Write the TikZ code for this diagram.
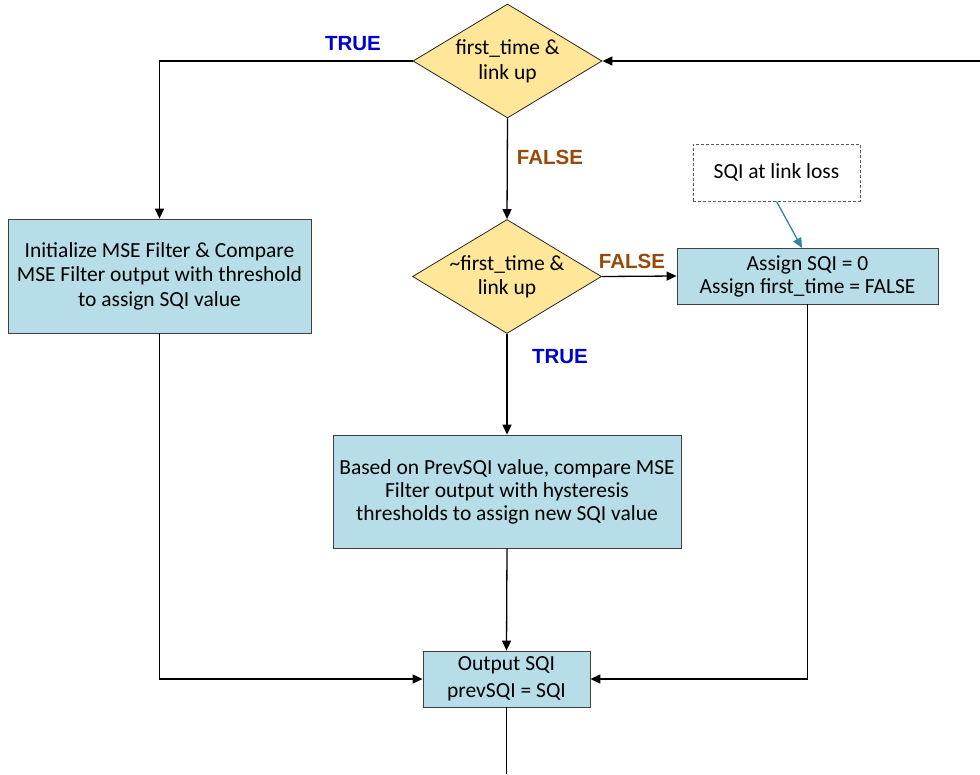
\documentclass[tikz,border=0pt]{standalone}
\usepackage{fontspec}
\setmainfont{Carlito}
\newfontfamily\lblfont{Liberation Sans}
\usetikzlibrary{shapes.geometric,arrows.meta}
\definecolor{dfill}{HTML}{FFE699}
\definecolor{bfill}{HTML}{B7DEE8}
\definecolor{tealc}{HTML}{31859C}
\definecolor{tblue}{HTML}{0000CC}
\definecolor{fbrown}{HTML}{984807}
\begin{document}
\begin{tikzpicture}[x=1pt,y=-1pt,
  every node/.style={font=\fontsize{21.5}{24.5}\selectfont, align=center, inner sep=0pt},
  dec/.style={diamond, draw=black!85, fill=dfill, line width=0.8pt, aspect=1.658, inner sep=-4pt, minimum width=189pt, minimum height=114pt},
  proc/.style={rectangle, draw=black!75, fill=bfill, line width=0.8pt},
  notebox/.style={rectangle, draw=black!65, dash pattern=on 3pt off 2pt, line width=0.8pt, fill=white},
  arr/.style={line width=1.3pt, -{Triangle[length=10pt,width=9pt]}},
  plain/.style={line width=1.3pt},
  tarr/.style={draw=tealc, line width=1.3pt, -{Triangle[length=10pt,width=9pt]}},
  tlbl/.style={font=\lblfont\bfseries\fontsize{20.5}{22}\selectfont, text=tblue},
  flbl/.style={font=\lblfont\bfseries\fontsize{20.5}{22}\selectfont, text=fbrown}
]
\useasboundingbox (0,0) rectangle (980,774);

\node[dec, font=\fontsize{21.5}{25}\selectfont] (d1) at (507.5,61) {first\_time \&\\link up};
\node[dec, font=\fontsize{21.5}{24}\selectfont] (d2) at (507,276.5) {\textasciitilde first\_time \&\\link up};
\node[proc, minimum width=303pt, minimum height=114pt] (init) at (159.5,276)
  {Initialize MSE Filter \& Compare\\MSE Filter output with threshold\\to assign SQI value};
\node[proc, minimum width=261pt, minimum height=56pt, font=\fontsize{21.5}{23}\selectfont] (assign) at (807.5,276)
  {Assign SQI = 0\\Assign first\_time = FALSE};
\node[notebox, minimum width=167pt, minimum height=57pt] (note) at (776.5,172.5) {SQI at link loss};
\node[proc, minimum width=348pt, minimum height=113pt, font=\fontsize{21.5}{23}\selectfont] (mid) at (507,491.5)
  {Based on PrevSQI value, compare MSE\\Filter output with hysteresis\\thresholds to assign new SQI value};
\node[proc, minimum width=167pt, minimum height=56pt, font=\fontsize{21.5}{27}\selectfont] (out) at (506.5,679)
  {Output SQI\\prevSQI = SQI};

\coordinate (rin) at (980,61);
\coordinate (bot) at (506.5,774);
\coordinate (tend) at (802,248);

\draw[arr] (d1.west) -| (init.north);
\draw[arr] (rin) -- (d1.east);
\draw[arr] (d1.south) -- (d2.north);
\draw[arr] (d2.east) -- (assign.west);
\draw[arr] (d2.south) -- (mid.north);
\draw[arr] (mid.south) -- (out.north);
\draw[arr] (init.south) |- (out.west);
\draw[arr] (assign.south) |- (out.east);
\draw[plain] (out.south) -- (bot);
\draw[tarr] (note.south) -- (tend);

\node[tlbl] (t1) at (353,44) {TRUE};
\node[flbl] (f1) at (550,157) {FALSE};
\node[flbl] (f2) at (632,261) {FALSE};
\node[tlbl] (t2) at (560,357) {TRUE};
\end{tikzpicture}
\end{document}
